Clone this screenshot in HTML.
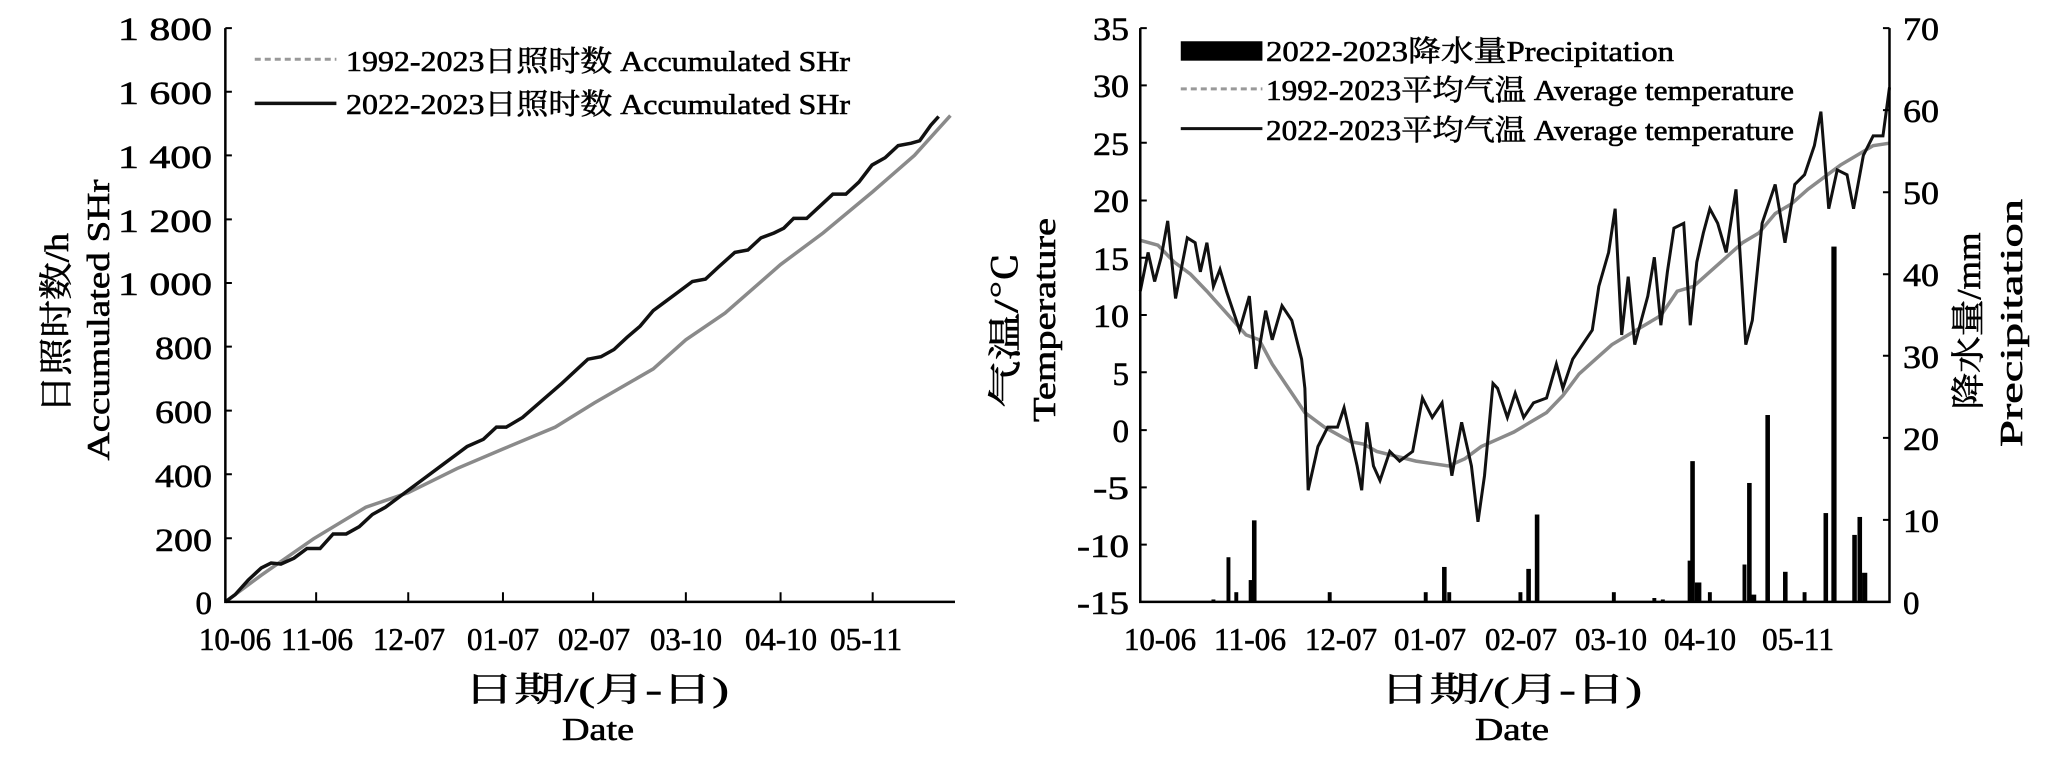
<!DOCTYPE html>
<html><head><meta charset="utf-8"><style>
html,body{margin:0;padding:0;background:#fff;}
svg{display:block}
text{font-family:"Liberation Serif","Noto Serif CJK SC","Noto Sans CJK SC",serif;fill:#000;stroke:#000;stroke-width:0.6;}
</style></head><body>
<svg width="2047" height="760" viewBox="0 0 2047 760" xmlns="http://www.w3.org/2000/svg">
<rect width="2047" height="760" fill="#fff"/>
<!-- LEFT CHART (zoom coords) -->
<g transform="scale(0.6532,0.4854)" fill="none">
  <polyline vector-effect="non-scaling-stroke" stroke="#8a8a8a" stroke-width="3.5" points="345,1240 400,1185 480,1110 560,1045 625,1015 700,965 770,925 850,880 910,830 1000,760 1050,700 1110,645 1195,545 1260,480 1336,395 1400,320 1455,238"/>
  <polyline vector-effect="non-scaling-stroke" stroke="#111" stroke-width="3.5" points="345,1240 360,1225 380,1195 400,1170 415,1160 430,1162 450,1150 470,1130 490,1130 510,1100 530,1100 550,1085 570,1060 590,1045 625,1010 650,985 680,955 700,935 715,920 740,905 760,880 775,880 800,860 830,825 860,790 880,765 900,740 920,735 940,720 960,695 980,672 1000,640 1020,620 1040,600 1060,580 1080,575 1100,550 1125,520 1145,515 1165,490 1185,480 1200,470 1215,450 1235,450 1255,425 1275,400 1295,400 1315,375 1335,340 1355,325 1375,300 1395,295 1408,290 1425,258 1437,240"/>
  <polyline vector-effect="non-scaling-stroke" stroke="#000" stroke-width="2.5" points="345,58 345,1240 1462,1240"/>
  <g stroke="#000" stroke-width="2">
   <path vector-effect="non-scaling-stroke" d="M345,58h10M345,189h10M345,320h10M345,452h10M345,583h10M345,714h10M345,846h10M345,977h10M345,1109h10"/>
   <path vector-effect="non-scaling-stroke" d="M484,1240v-20M625,1240v-20M770,1240v-20M908,1240v-20M1050,1240v-20M1195,1240v-20M1336,1240v-20"/>
  </g>
  <line vector-effect="non-scaling-stroke" x1="390" y1="122" x2="515" y2="122" stroke="#999" stroke-width="3" stroke-dasharray="6,4"/>
  <line vector-effect="non-scaling-stroke" x1="390" y1="213" x2="515" y2="213" stroke="#111" stroke-width="3.5"/>
</g>
<g font-size="33" text-anchor="end">
 <text x="212" y="40" textLength="94" lengthAdjust="spacingAndGlyphs">1 800</text>
 <text x="212" y="104" textLength="94" lengthAdjust="spacingAndGlyphs">1 600</text>
 <text x="212" y="168" textLength="94" lengthAdjust="spacingAndGlyphs">1 400</text>
 <text x="212" y="232" textLength="94" lengthAdjust="spacingAndGlyphs">1 200</text>
 <text x="212" y="295" textLength="94" lengthAdjust="spacingAndGlyphs">1 000</text>
 <text x="212" y="359" textLength="57" lengthAdjust="spacingAndGlyphs">800</text>
 <text x="212" y="423" textLength="57" lengthAdjust="spacingAndGlyphs">600</text>
 <text x="212" y="487" textLength="57" lengthAdjust="spacingAndGlyphs">400</text>
 <text x="212" y="551" textLength="57" lengthAdjust="spacingAndGlyphs">200</text>
 <text x="212" y="614">0</text>
</g>
<g font-size="32" text-anchor="middle">
 <text x="235" y="650" textLength="72" lengthAdjust="spacingAndGlyphs">10-06</text>
 <text x="317" y="650" textLength="72" lengthAdjust="spacingAndGlyphs">11-06</text>
 <text x="409" y="650" textLength="72" lengthAdjust="spacingAndGlyphs">12-07</text>
 <text x="503" y="650" textLength="72" lengthAdjust="spacingAndGlyphs">01-07</text>
 <text x="594" y="650" textLength="72" lengthAdjust="spacingAndGlyphs">02-07</text>
 <text x="686" y="650" textLength="72" lengthAdjust="spacingAndGlyphs">03-10</text>
 <text x="781" y="650" textLength="72" lengthAdjust="spacingAndGlyphs">04-10</text>
 <text x="866" y="650" textLength="72" lengthAdjust="spacingAndGlyphs">05-11</text>
</g>
<text x="346" y="71" font-size="29" textLength="504" lengthAdjust="spacingAndGlyphs">1992-2023日照时数 Accumulated SHr</text>
<text x="346" y="114" font-size="29" textLength="504" lengthAdjust="spacingAndGlyphs">2022-2023日照时数 Accumulated SHr</text>
<text x="464" y="701" font-size="34" textLength="265" lengthAdjust="spacingAndGlyphs">日期/(月-日)</text>
<text x="598" y="740" font-size="32" text-anchor="middle" textLength="72" lengthAdjust="spacingAndGlyphs">Date</text>
<text transform="translate(68,323) rotate(-90)" font-size="34" text-anchor="middle" textLength="180" lengthAdjust="spacingAndGlyphs">日照时数/h</text>
<text transform="translate(109,320) rotate(-90)" font-size="32" text-anchor="middle" textLength="281" lengthAdjust="spacingAndGlyphs">Accumulated SHr</text>

<!-- RIGHT CHART (zoom coords) -->
<g transform="translate(1024,0) scale(0.6532,0.4854)" fill="none">
  <g fill="#000">
   <rect x="287" y="1235" width="6" height="5"/><rect x="310" y="1148" width="6" height="92"/><rect x="322" y="1220" width="6" height="20"/><rect x="344" y="1195" width="6" height="45"/><rect x="349" y="1072" width="7" height="168"/><rect x="465" y="1220" width="6" height="20"/><rect x="612" y="1220" width="6" height="20"/><rect x="640" y="1168" width="7" height="72"/><rect x="648" y="1220" width="6" height="20"/><rect x="757" y="1220" width="6" height="20"/><rect x="769" y="1172" width="7" height="68"/><rect x="782" y="1060" width="7" height="180"/><rect x="900" y="1220" width="6" height="20"/><rect x="962" y="1232" width="6" height="8"/><rect x="975" y="1235" width="6" height="5"/><rect x="1016" y="1155" width="6" height="85"/><rect x="1020" y="950" width="7" height="290"/><rect x="1027" y="1200" width="10" height="40"/><rect x="1047" y="1220" width="6" height="20"/><rect x="1100" y="1163" width="6" height="77"/><rect x="1107" y="995" width="7" height="245"/><rect x="1113" y="1225" width="8" height="15"/><rect x="1135" y="855" width="7" height="385"/><rect x="1162" y="1178" width="7" height="62"/><rect x="1192" y="1220" width="6" height="20"/><rect x="1224" y="1057" width="7" height="183"/><rect x="1236" y="508" width="8" height="732"/><rect x="1268" y="1102" width="7" height="138"/><rect x="1276" y="1065" width="7" height="175"/><rect x="1283" y="1180" width="8" height="60"/>
  </g>
  <polyline vector-effect="non-scaling-stroke" stroke="#8a8a8a" stroke-width="3.5" points="178,495 205,505 230,540 255,565 280,600 300,630 320,660 340,690 360,700 380,750 400,790 415,820 430,850 445,865 460,880 480,895 500,910 520,915 540,930 570,940 600,950 625,955 650,960 675,945 700,920 725,905 750,890 775,870 800,850 825,815 850,770 875,740 900,710 925,690 950,670 975,650 1000,600 1025,590 1050,560 1075,530 1100,500 1125,480 1150,440 1175,420 1200,390 1225,365 1250,340 1275,320 1300,300 1325,295"/>
  <polyline vector-effect="non-scaling-stroke" stroke="#111" stroke-width="3" points="178,600 190,520 200,580 210,530 220,455 232,615 250,490 262,500 270,560 280,500 290,590 300,555 310,600 320,640 330,680 345,610 355,760 370,640 380,700 395,630 410,660 425,740 430,800 435,1010 450,920 465,880 480,880 490,840 500,900 510,960 517,1010 525,870 535,960 545,990 560,930 575,950 595,930 610,820 625,860 640,830 655,980 670,870 685,960 695,1075 705,980 718,790 725,800 740,860 752,810 765,860 780,830 800,820 815,750 825,800 840,740 855,710 870,680 880,590 895,520 905,430 915,690 925,570 935,710 955,610 965,530 975,670 985,560 995,470 1010,460 1020,670 1030,540 1040,480 1050,430 1062,460 1075,520 1090,390 1105,710 1115,660 1130,460 1150,380 1165,500 1180,380 1195,360 1210,300 1220,230 1232,430 1245,350 1260,360 1270,430 1285,320 1300,280 1315,280 1325,180"/>
  <polyline vector-effect="non-scaling-stroke" stroke="#000" stroke-width="2.5" points="178,58 178,1240 1325,1240 1325,58"/>
  <path vector-effect="non-scaling-stroke" stroke="#000" stroke-width="2" d="M178,58h10M178,176h10M178,294h10M178,413h10M178,531h10M178,649h10M178,767h10M178,886h10M178,1004h10M178,1122h10M1325,58h-10M1325,227h-10M1325,396h-10M1325,565h-10M1325,733h-10M1325,902h-10M1325,1071h-10"/>
  <rect x="240" y="85" width="125" height="40" fill="#000"/>
  <line vector-effect="non-scaling-stroke" x1="240" y1="183" x2="365" y2="183" stroke="#999" stroke-width="3" stroke-dasharray="6,4"/>
  <line vector-effect="non-scaling-stroke" x1="240" y1="265" x2="365" y2="265" stroke="#111" stroke-width="3"/>
</g>
<g font-size="33" text-anchor="end">
 <text x="1129" y="40" textLength="36" lengthAdjust="spacingAndGlyphs">35</text>
 <text x="1129" y="97" textLength="36" lengthAdjust="spacingAndGlyphs">30</text>
 <text x="1129" y="155" textLength="36" lengthAdjust="spacingAndGlyphs">25</text>
 <text x="1129" y="212" textLength="36" lengthAdjust="spacingAndGlyphs">20</text>
 <text x="1129" y="270" textLength="36" lengthAdjust="spacingAndGlyphs">15</text>
 <text x="1129" y="327" textLength="36" lengthAdjust="spacingAndGlyphs">10</text>
 <text x="1129" y="385">5</text>
 <text x="1129" y="442">0</text>
 <text x="1129" y="499" textLength="36" lengthAdjust="spacingAndGlyphs">-5</text>
 <text x="1129" y="557" textLength="52" lengthAdjust="spacingAndGlyphs">-10</text>
 <text x="1129" y="614" textLength="52" lengthAdjust="spacingAndGlyphs">-15</text>
</g>
<g font-size="33">
 <text x="1903" y="40" textLength="36" lengthAdjust="spacingAndGlyphs">70</text>
 <text x="1903" y="122" textLength="36" lengthAdjust="spacingAndGlyphs">60</text>
 <text x="1903" y="204" textLength="36" lengthAdjust="spacingAndGlyphs">50</text>
 <text x="1903" y="286" textLength="36" lengthAdjust="spacingAndGlyphs">40</text>
 <text x="1903" y="368" textLength="36" lengthAdjust="spacingAndGlyphs">30</text>
 <text x="1903" y="450" textLength="36" lengthAdjust="spacingAndGlyphs">20</text>
 <text x="1903" y="532" textLength="36" lengthAdjust="spacingAndGlyphs">10</text>
 <text x="1903" y="614">0</text>
</g>
<g font-size="32" text-anchor="middle">
 <text x="1160" y="650" textLength="72" lengthAdjust="spacingAndGlyphs">10-06</text>
 <text x="1250" y="650" textLength="72" lengthAdjust="spacingAndGlyphs">11-06</text>
 <text x="1341" y="650" textLength="72" lengthAdjust="spacingAndGlyphs">12-07</text>
 <text x="1430" y="650" textLength="72" lengthAdjust="spacingAndGlyphs">01-07</text>
 <text x="1521" y="650" textLength="72" lengthAdjust="spacingAndGlyphs">02-07</text>
 <text x="1611" y="650" textLength="72" lengthAdjust="spacingAndGlyphs">03-10</text>
 <text x="1700" y="650" textLength="72" lengthAdjust="spacingAndGlyphs">04-10</text>
 <text x="1798" y="650" textLength="72" lengthAdjust="spacingAndGlyphs">05-11</text>
</g>
<text x="1266" y="61" font-size="29" textLength="408" lengthAdjust="spacingAndGlyphs">2022-2023降水量Precipitation</text>
<text x="1266" y="100" font-size="29" textLength="528" lengthAdjust="spacingAndGlyphs">1992-2023平均气温 Average temperature</text>
<text x="1266" y="140" font-size="29" textLength="528" lengthAdjust="spacingAndGlyphs">2022-2023平均气温 Average temperature</text>
<text x="1380" y="701" font-size="34" textLength="262" lengthAdjust="spacingAndGlyphs">日期/(月-日)</text>
<text x="1512" y="740" font-size="32" text-anchor="middle" textLength="74" lengthAdjust="spacingAndGlyphs">Date</text>
<text transform="translate(1017,330) rotate(-90)" font-size="34" text-anchor="middle" textLength="156" lengthAdjust="spacingAndGlyphs">气温/℃</text>
<text transform="translate(1055,320) rotate(-90)" font-size="32" text-anchor="middle" textLength="204" lengthAdjust="spacingAndGlyphs">Temperature</text>
<text transform="translate(1980,321) rotate(-90)" font-size="34" text-anchor="middle" textLength="177" lengthAdjust="spacingAndGlyphs">降水量/mm</text>
<text transform="translate(2022,323) rotate(-90)" font-size="32" text-anchor="middle" textLength="248" lengthAdjust="spacingAndGlyphs">Precipitation</text>
</svg>
</body></html>
